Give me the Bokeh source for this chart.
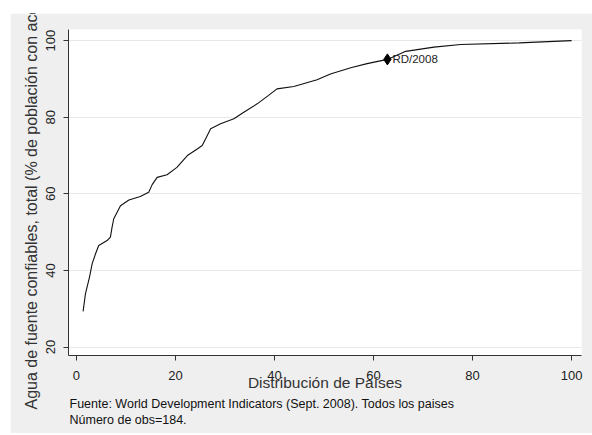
from bokeh.plotting import figure
from bokeh.models import Range1d, Label, FixedTicker, Title
from bokeh.embed import file_html
from bokeh.resources import INLINE

# Distribution of countries (percentile) vs. water access (% population)
dist_x = [1.35, 1.82, 2.63, 3.17, 3.84, 4.5, 6.2, 6.87, 7.2, 7.54, 8.9, 10.6, 12.9,
          14.6, 15.3, 16.3, 18.3, 20.3, 22.4, 24.4, 25.4, 26.1, 27.1, 29.1, 31.8,
          33.8, 36.5, 38.8, 40.5, 43.9, 48.6, 51.3, 55.4, 58.7, 62.8, 66.5, 72.2,
          77.6, 89.4, 96.4, 100.0]
water_y = [29.3, 33.9, 38.2, 41.7, 44.3, 46.5, 47.8, 48.7, 51.3, 53.5, 56.9, 58.4, 59.3,
           60.4, 62.4, 64.3, 65.0, 66.9, 70.0, 71.7, 72.6, 74.4, 77.0, 78.3, 79.6,
           81.3, 83.5, 85.7, 87.4, 88.0, 89.8, 91.3, 92.9, 94.0, 95.1, 97.2, 98.3,
           99.0, 99.4, 99.8, 100.0]

rd_x = [62.8]
rd_y = [95.1]
rd_label = "RD/2008"

x_ticks = [0, 20, 40, 60, 80, 100]
y_ticks = [20, 40, 60, 80, 100]

FONT = "Liberation Sans"

p = figure(width=582, height=420, output_backend="svg", toolbar_location=None,
           x_range=Range1d(-1.6, 102.0), y_range=Range1d(17.8, 102.9),
           min_border_left=58, min_border_right=11, min_border_top=16, min_border_bottom=78)
p.styles = {"margin-left": "10px", "margin-top": "13px"}

p.border_fill_color = "#efefef"
p.background_fill_color = "white"
p.outline_line_color = None

p.line(dist_x, water_y, line_color="#111111", line_width=1.1)
p.scatter(rd_x, rd_y, marker="diamond", size=11, fill_color="black", line_color="black")
p.add_layout(Label(x=rd_x[0], y=rd_y[0], text=rd_label, x_offset=5,
                   text_baseline="middle", text_font=FONT,
                   text_font_size="11.5px", text_color="#222222"))

p.xgrid.grid_line_color = None
p.ygrid.grid_line_color = "#e8e8e8"
p.ygrid.ticker = FixedTicker(ticks=y_ticks)

p.xaxis.ticker = FixedTicker(ticks=x_ticks)
p.yaxis.ticker = FixedTicker(ticks=y_ticks)
for ax in (p.xaxis[0], p.yaxis[0]):
    ax.axis_line_color = "#333333"
    ax.major_tick_line_color = "#333333"
    ax.major_tick_out = 5
    ax.major_tick_in = 0
    ax.minor_tick_line_color = None
    ax.major_label_text_font = FONT
    ax.major_label_text_font_size = "13px"
    ax.major_label_text_color = "#222222"
    ax.axis_label_text_font = FONT
    ax.axis_label_text_font_style = "normal"
    ax.axis_label_text_color = "#333333"

p.xaxis.axis_label = "Distribución de Países"
p.xaxis.axis_label_text_font_size = "15.5px"
p.xaxis.major_label_standoff = 10
p.xaxis.axis_label_standoff = -9

p.yaxis.axis_label = "Agua de fuente confiables, total (% de población con acceso)"
p.yaxis.axis_label_text_font_size = "16px"
p.yaxis.major_label_orientation = "vertical"
p.yaxis.major_label_standoff = 8
p.yaxis.axis_label_standoff = 4

notes = ["Fuente: World Development Indicators (Sept. 2008). Todos los paises",
         "Número de obs=184."]
note_gaps = [3, -3]
for t, g in zip(notes, note_gaps):
    p.add_layout(Title(text=t, align="left", offset=1, standoff=g, text_font=FONT,
                       text_font_size="12.5px", text_font_style="normal",
                       text_color="#111111"), "below")

open("out.html", "w").write(file_html(p, INLINE))
